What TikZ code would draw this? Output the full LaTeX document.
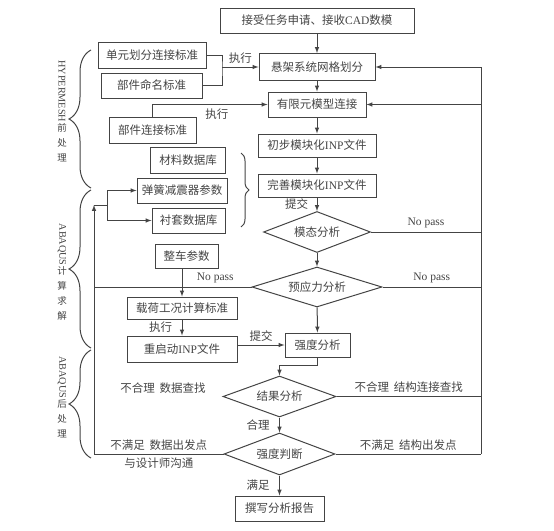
\documentclass[tikz,border=0pt]{standalone}
\usepackage{graphicx}
\usepackage{fontspec}
\setmainfont{Noto Sans CJK SC}
\newfontfamily\lat{Liberation Serif}
\usetikzlibrary{shapes.geometric,decorations.pathreplacing}
\definecolor{ink}{HTML}{444444}
\begin{document}
\begin{tikzpicture}[x=1pt,y=-1pt,
  every node/.style={text=ink,font=\fontsize{11.5}{13}\selectfont},
  box/.style={draw=ink,line width=1pt,inner sep=1pt},
  dec/.style={draw=ink,line width=1pt,diamond,aspect=2.6,inner sep=1pt},
  ln/.style={draw=ink,line width=1pt},
  arr/.style={ln,-latex},
  side/.style={font=\fontsize{9.5}{15}\selectfont,align=center},
  brc/.style={ln,decorate,decoration={brace,amplitude=#1}}]
\useasboundingbox (0,0) rectangle (554,530);
\node[box,minimum width=194pt,minimum height=25pt] (task) at (317,20.5) {接受任务申请、接收{\lat CAD}数模};
\node[box,minimum width=116pt,minimum height=27pt] (mesh) at (317,67) {悬架系统网格划分};
\node[box,minimum width=98pt,minimum height=25pt] (conn) at (317,104.5) {有限元模型连接};
\node[box,minimum width=118pt,minimum height=23pt] (inp1) at (317,145.5) {初步模块化{\lat INP}文件};
\node[box,minimum width=118pt,minimum height=23pt] (inp2) at (317,185.5) {完善模块化{\lat INP}文件};
\node[dec,minimum width=107pt,minimum height=41pt] (modal) at (317,232) {模态分析};
\node[dec,minimum width=130pt,minimum height=40pt] (pre) at (317,287) {预应力分析};
\node[box,minimum width=65pt,minimum height=24pt] (str) at (317.5,345) {强度分析};
\node[dec,minimum width=113pt,minimum height=41pt] (res) at (279.5,396.5) {结果分析};
\node[dec,minimum width=111pt,minimum height=42pt] (judge) at (279.5,454) {强度判断};
\node[box,minimum width=89pt,minimum height=25pt] (report) at (279.5,508.5) {撰写分析报告};
\node[box,minimum width=108pt,minimum height=26pt] (elstd) at (152,55) {单元划分连接标准};
\node[box,minimum width=101pt,minimum height=25pt] (namestd) at (151.5,85.5) {部件命名标准};
\node[box,minimum width=87pt,minimum height=26pt] (connstd) at (152.5,130) {部件连接标准};
\node[box,minimum width=75pt,minimum height=26pt] (matdb) at (188,160) {材料数据库};
\node[box,minimum width=90pt,minimum height=25pt] (spring) at (182,190.5) {弹簧减震器参数};
\node[box,minimum width=73pt,minimum height=25pt] (bush) at (188.5,220.5) {衬套数据库};
\node[box,minimum width=63pt,minimum height=24pt] (car) at (186.5,256) {整车参数};
\node[box,minimum width=110pt,minimum height=22pt] (load) at (182,308) {载荷工况计算标准};
\node[box,minimum width=110pt,minimum height=26pt] (restart) at (182,349) {重启动{\lat INP}文件};
\node (badd) at (163,388) {不合理\hspace{0.4em}数据查找};
\node[side] (hm) at (62,111) {\rotatebox{-90}{\lat\fontsize{10.2}{15}\selectfont HYPERMESH}\\前\\处\\理};
\node[side] (abc) at (62,272) {\rotatebox{-90}{\lat\fontsize{10.2}{15}\selectfont ABAQUS}\\计\\算\\求\\解};
\node[side] (abp) at (62,397) {\rotatebox{-90}{\lat\fontsize{10.2}{15}\selectfont ABAQUS}\\后\\处\\理};
\coordinate (rt) at (481,67);
\coordinate (lf) at (94,205);
\coordinate (fork) at (107,205);
\coordinate (jn) at (222,67);
\foreach \a/\b in {task/mesh,mesh/conn,conn/inp1,inp1/inp2,modal/pre,pre/str}
  \draw[arr] (\a) -- (\b);
\draw[arr] (inp2) -- (modal) node[midway,left=5pt] {提交};
\draw[arr] (str.south) -- ++(0,8) -| (res.north);
\draw[arr] (res) -- (judge) node[midway,left=6pt] {合理};
\draw[arr] (judge) -- (report) node[midway,left=6pt] {满足};
\draw[ln] (judge.east) -- (judge.east -| rt) node[midway,above] {不满足\hspace{0.4em}结构出发点};
\draw[arr] (judge.east -| rt) -- (rt) -- (mesh.east);
\draw[arr] (conn.east -| rt) -- (conn.east);
\draw[ln] (modal.east) -- (modal.east -| rt) node[midway,above] {\lat No pass};
\draw[ln] (pre.east) -- (pre.east -| rt) node[midway,above] {\lat No pass};
\draw[ln] (res.east) -- (res.east -| rt) node[midway,above] {不合理\hspace{0.4em}结构连接查找};
\draw[arr] (judge.west) -- (judge.west -| lf) node[midway,above] {不满足\hspace{0.4em}数据出发点}
  node[midway,below] {与设计师沟通} -- (lf);
\draw[ln] (lf) -- (fork);
\draw[ln] (fork |- spring) -- (fork |- bush);
\draw[arr] (fork |- spring) -- (spring);
\draw[arr] (fork |- bush) -- (bush);
\draw[ln] (pre.west) -- (pre.west -| lf) node[pos=0.23,above] {\lat No pass};
\draw[arr] (car.south -| load) -- (load);
\draw[arr] (load) -- (restart) node[midway,left=6pt] {执行};
\draw[arr] (restart.east |- str) -- (str) node[midway,above] {提交};
\draw[ln] (elstd.east) -| (jn) |- (namestd.east);
\draw[arr] (jn) -- (jn -| mesh.west) node[midway,above] {执行};
\draw[arr] (connstd.north) |- (conn.west) node[pos=0.78,below] {执行};
\draw[brc=8pt] (241,153) -- (241,227);
\draw[brc=22pt] (91,188) -- (91,50);
\draw[brc=22pt] (91,348) -- (91,190);
\draw[brc=22pt] (91,458) -- (91,350);
\end{tikzpicture}
\end{document}
